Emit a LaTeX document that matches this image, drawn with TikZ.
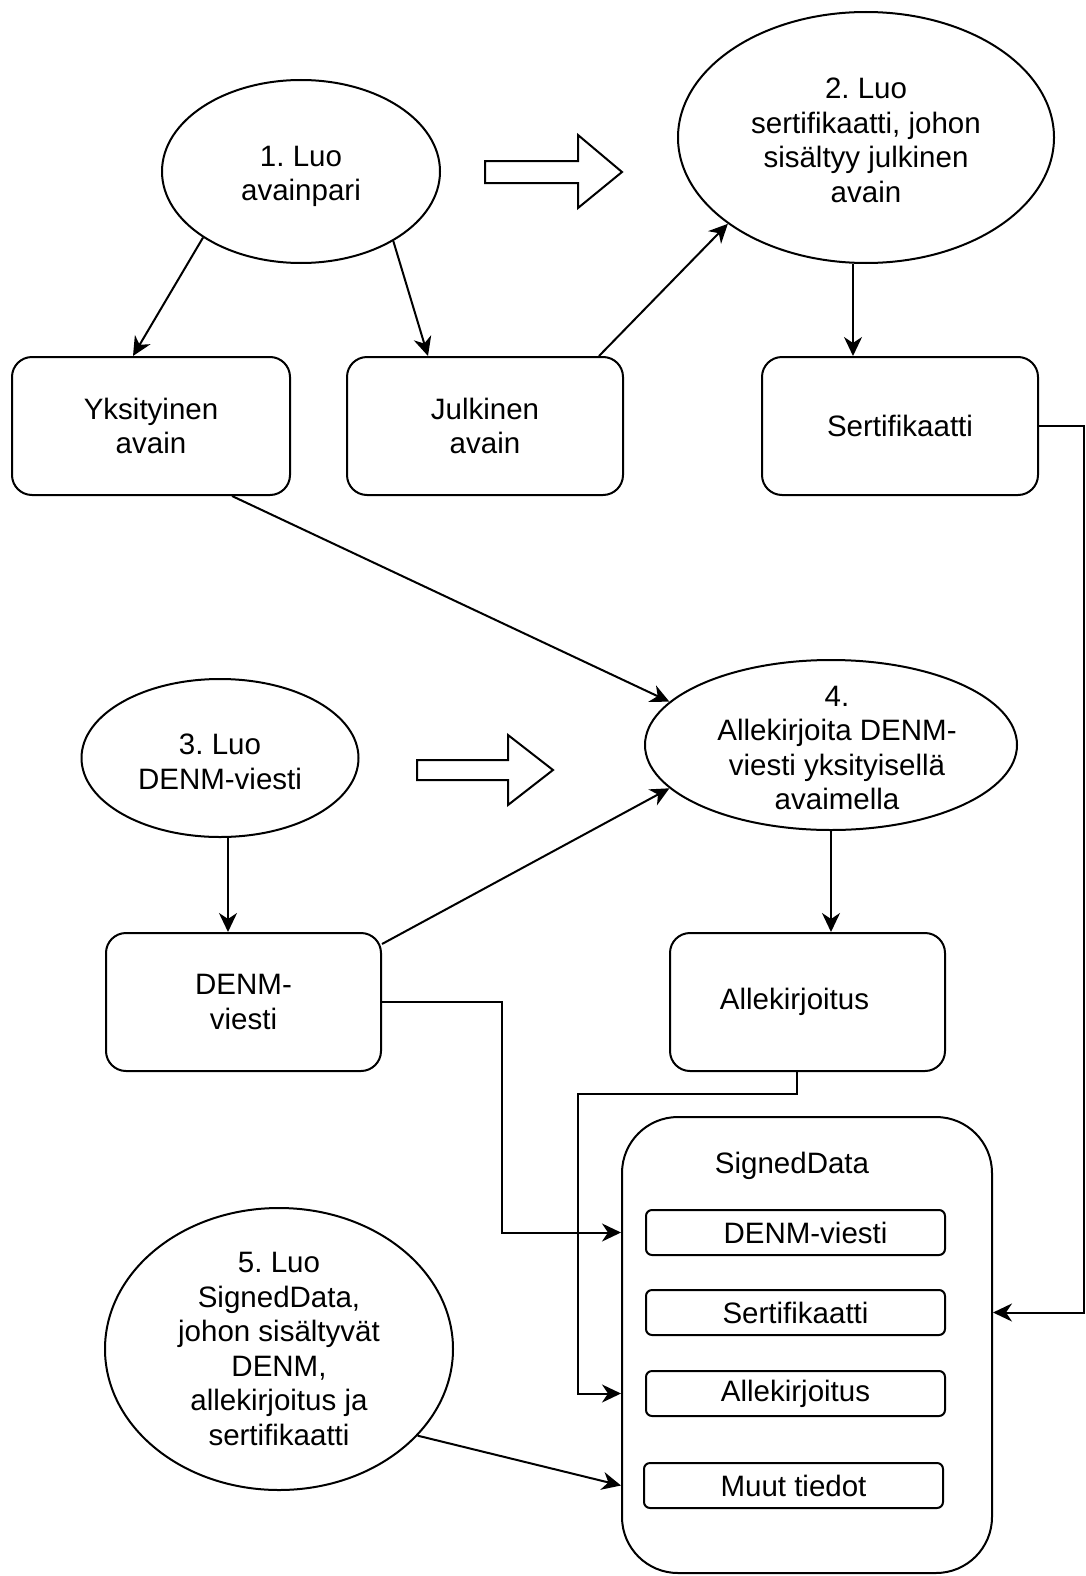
\documentclass[tikz,border=0pt]{standalone}
\usepackage{fontspec}
\setmainfont{Liberation Sans}
\usetikzlibrary{shapes.geometric,arrows.meta}
\frenchspacing
\begin{document}
\begin{tikzpicture}[x=1pt,y=-1pt,
  line width=2pt,
  every node/.style={font=\fontsize{29.5}{34.5}\selectfont, align=center, inner sep=0pt},
  oval/.style={draw, ellipse, inner sep=0pt},
  rbox/.style={draw, rectangle, rounded corners=20pt, minimum width=276pt, minimum height=138pt},
  field/.style={draw, rectangle, rounded corners=6pt, minimum width=299pt, minimum height=45pt},
  conn/.style={-{Stealth[length=19pt,width=18pt,inset=6pt]}},
  bigarrow/.style={draw, fill=white, line join=miter}
]
\path[use as bounding box] (0,0) rectangle (1085,1576);

% step ellipses
\node[oval, minimum width=278pt, minimum height=183pt] (e1) at (301,171.5) {};
\node[yshift=-5pt] (e1t) at (e1.center) {1. Luo\\avainpari};
\node[oval, minimum width=376pt, minimum height=251pt] (e2) at (866,137.5) {};
\node[yshift=-3pt] (e2t) at (e2.center) {2. Luo\\sertifikaatti, johon\\sisältyy julkinen\\avain};
\node[oval, minimum width=277pt, minimum height=158pt] (e3) at (220,758) {};
\node[yshift=-4pt] (e3t) at (e3.center) {3. Luo\\DENM-viesti};
\node[oval, minimum width=372pt, minimum height=170pt] (e4) at (831,745) {};
\node[yshift=-3pt, xshift=6pt] (e4t) at (e4.center) {4.\\Allekirjoita DENM-\\viesti yksityisellä\\avaimella};
\node[oval, minimum width=348pt, minimum height=282pt] (e5) at (279,1349) {};
\node (e5t) at (e5.center) {5. Luo\\SignedData,\\johon sisältyvät\\DENM,\\allekirjoitus ja\\sertifikaatti};

% data boxes
\node[rbox, minimum width=278pt] (b1) at (151,426) {Yksityinen\\avain};
\node[rbox] (b2) at (485,426) {Julkinen\\avain};
\node[rbox] (b3) at (900,426) {Sertifikaatti};
\node[rbox, minimum width=275pt] (b4) at (243.5,1002) {DENM-\\viesti};
\node[rbox, minimum width=275pt] (b5) at (807.5,1002) {\hspace*{-26pt}Allekirjoitus};

% SignedData container and its fields
\node[draw, rounded corners=56pt, minimum width=370pt, minimum height=456pt] (sd) at (807,1345) {};
\node (sdl) at (792,1166) {SignedData};
\node[field] (i1) at (795.5,1232.5) {\hspace*{20pt}DENM-viesti};
\node[field] (i2) at (795.5,1312.5) {Sertifikaatti};
\node[field] (i3) at (795.5,1393.5) {Allekirjoitus};
\node[field] (i4) at (793.5,1485.5) {Muut tiedot};

% hollow "then" arrows
\draw[bigarrow] (485,161) -- (578,161) -- (578,135) -- (622,172) -- (578,208) -- (578,183) -- (485,183) -- cycle;
\draw[bigarrow] (417,760) -- (508,760) -- (508,735) -- (553,770) -- (508,805) -- (508,780) -- (417,780) -- cycle;

% connectors
\draw[conn] (e1.214) -- ([xshift=122pt]b1.north west);
\draw[conn] (e1.323) -- ([xshift=82pt]b2.north west);
\draw[conn] ([xshift=253pt]b2.north west) -- (e2.212);
\draw[conn] ([xshift=-13pt]e2.south) -- ([xshift=-13pt]e2.south |- b3.north);
\draw[conn] (b3.east) -- ++(45pt,0) |- (i2 -| sd.east);
\draw[conn] ([xshift=221pt]b1.south west) -- (e4.165);
\draw[conn] ([yshift=-12pt]b4.north east) -- (e4.195);
\draw[conn] ([xshift=8pt]e3.south) -- ([xshift=8pt]e3.south |- b4.north);
\draw[conn] (e4.south) -- (e4.south |- b5.north);
\draw[conn] (b4.east) -- ++(120pt,0) |- (i1 -| sd.west);
\draw[conn] ([xshift=-11pt]b5.south) -- ++(0,-22pt) -- ++(-219pt,0) |- (i3 -| sd.west);
\draw[conn] (e5.328) -- (i4 -| sd.west);
\end{tikzpicture}
\end{document}
